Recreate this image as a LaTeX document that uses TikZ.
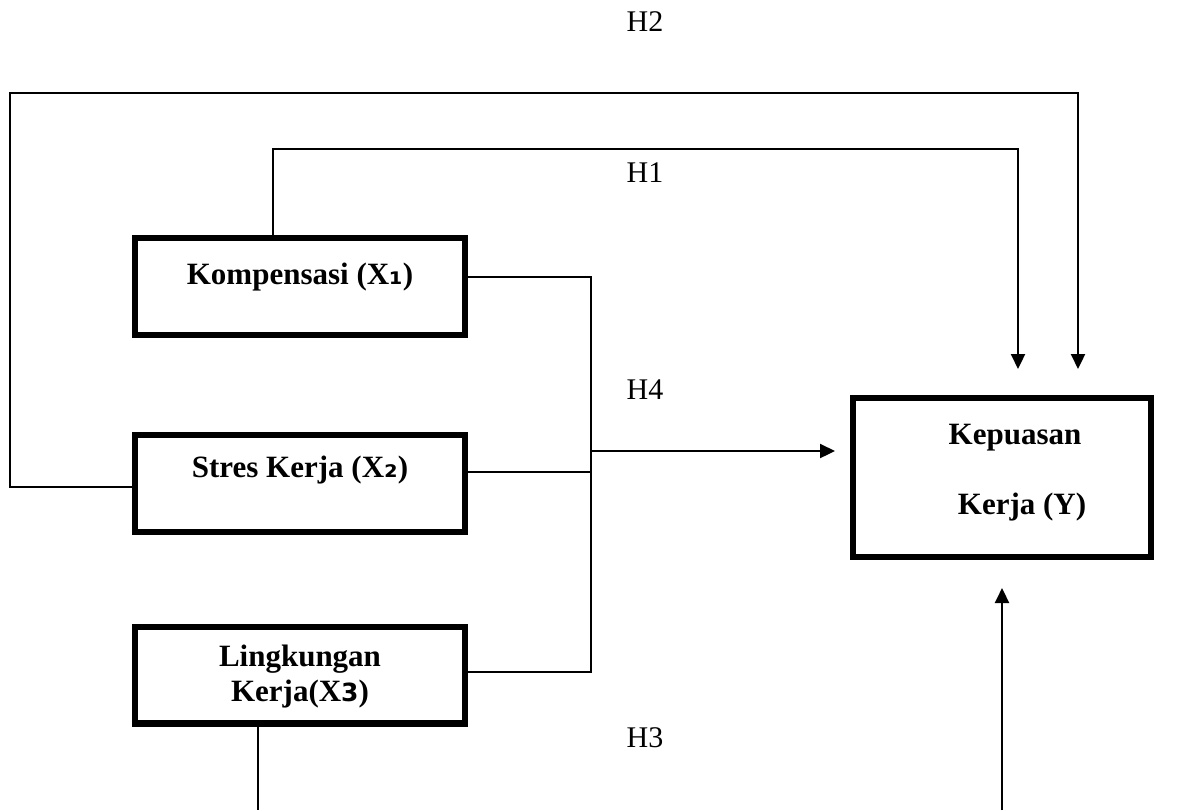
\documentclass[tikz,border=0pt]{standalone}
\usepackage{fontspec}
\setmainfont{Liberation Serif}
\newfontfamily\subfont{DejaVu Sans}
\usetikzlibrary{arrows.meta}

\tikzset{
  varbox/.style={draw, line width=3.2pt, align=center, inner sep=0pt,
    font=\bfseries\fontsize{15.5}{17.5}\selectfont},
  conn/.style={line width=1.1pt},
  arr/.style={conn, -{Triangle[length=7.5pt,width=7pt]}},
  hlabel/.style={font=\fontsize{15}{17}\selectfont}
}

\begin{document}
\begin{tikzpicture}[x=0.5pt,y=-0.5pt]
\useasboundingbox (0,0) rectangle (1181,810);

% variables
\node[varbox, minimum width=165pt, minimum height=48.3pt, text depth=13pt] (komp) at (300,286.5) {Kompensasi (X{\subfont ₁})};
\node[varbox, minimum width=165pt, minimum height=48.3pt, text depth=17pt] (stres) at (300,483.5) {Stres Kerja (X{\subfont ₂})};
\node[varbox, minimum width=165pt, minimum height=48.3pt, text depth=1.5pt] (ling) at (300,675) {Lingkungan\\Kerja(X{\subfont\fontsize{12.5}{14}\selectfont 3})};
\node[varbox, minimum width=148.8pt, minimum height=79.3pt, text depth=8pt] (kepuasan) at (1002,477.5) {\hspace*{13pt}Kepuasan\\[17.5pt]\hspace*{20pt}Kerja (Y)};

% bends
\coordinate (h2l) at (10,93);
\coordinate (h2r) at (1078,93);
\coordinate (h1r) at (1018,149);
\coordinate (bus) at (591,451);
\coordinate (h3l) at (258,810);
\coordinate (h3r) at (1002,810);

% H2
\draw[arr, shorten >=13pt] ([yshift=-1.75pt]stres.west) -| (h2l) -- (h2r) -- (h2r |- kepuasan.north);
% H1
\draw[arr, shorten >=13pt] ([xshift=-13.5pt]komp.north) |- (h1r) -- (h1r |- kepuasan.north);
% H4
\draw[conn] ([yshift=4.75pt]komp.east) -| (bus);
\draw[conn] ([yshift=5.75pt]stres.east) -| (bus);
\draw[conn] ([yshift=1.5pt]ling.east) -| (bus);
\draw[arr, shorten >=7.5pt] (bus) -- (bus -| kepuasan.west);
% H3
\draw[conn] (h3l |- ling.south) -- (h3l);
\draw[arr, shorten >=14pt] (h3r) -- (h3r |- kepuasan.south);

\node[hlabel] (h2) at (645,22) {H2};
\node[hlabel] (h1) at (645,173) {H1};
\node[hlabel] (h4) at (645,390) {H4};
\node[hlabel] (h3) at (645,738) {H3};
\end{tikzpicture}
\end{document}
